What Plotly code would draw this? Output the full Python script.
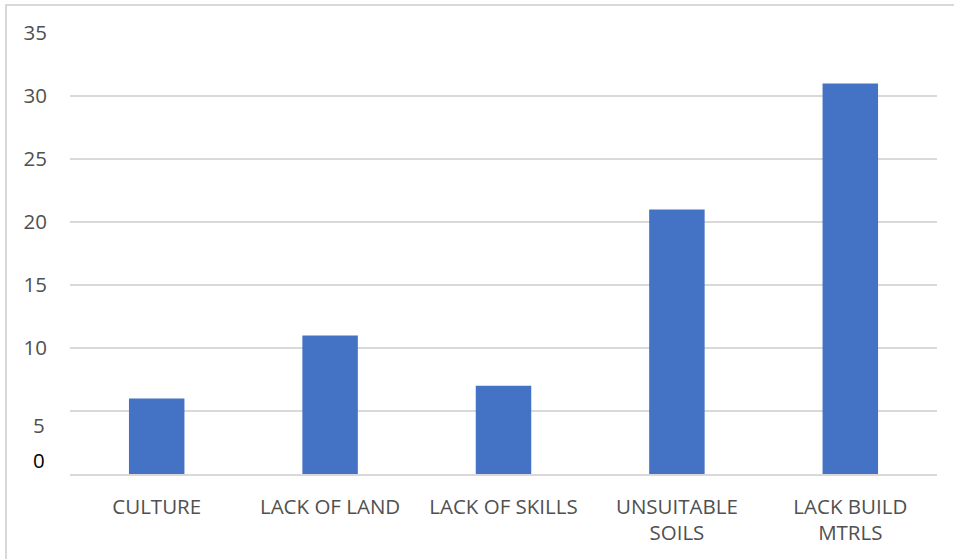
import plotly.graph_objects as go

categories = ["CULTURE", "LACK OF LAND", "LACK OF SKILLS", "UNSUITABLE<br>SOILS", "LACK BUILD<br>MTRLS"]
values = [6, 11, 7, 21, 31]
tick_values = [5, 10, 15, 20, 25, 30, 35]
tick_labels = ["", "10", "15", "20", "25", "30", "35"]

bar_color = "#4472C4"
grid_color = "#D9D9D9"
text_color = "#505050"
font_family = "Open Sans, Noto Sans, sans-serif"
font_size = 20.5

fig = go.Figure(
    go.Bar(
        x=categories,
        y=values,
        marker=dict(color=bar_color, line=dict(width=0)),
        width=0.32,
    )
)

fig.update_layout(
    width=954,
    height=559,
    margin=dict(l=70, r=17, t=33, b=85),
    paper_bgcolor="white",
    plot_bgcolor="white",
    showlegend=False,
    font=dict(family=font_family, size=font_size, color=text_color),
)

fig.update_xaxes(
    showline=True,
    linecolor=grid_color,
    linewidth=2,
    showgrid=False,
    ticks="",
    tickfont=dict(size=font_size, color=text_color),
    ticklabelstandoff=13,
)

fig.update_yaxes(
    range=[0, 35],
    tickvals=tick_values,
    ticktext=tick_labels,
    showgrid=True,
    gridcolor=grid_color,
    gridwidth=2,
    zeroline=False,
    showline=False,
    ticks="",
    tickfont=dict(size=font_size, color=text_color),
    ticklabelstandoff=22,
)

# lower axis labels sit slightly off their gridlines
fig.add_annotation(x=-0.026, xref="paper", y=3.9, yref="y", text="5",
                   showarrow=False, xanchor="right", yanchor="middle",
                   font=dict(size=font_size, color=text_color))
fig.add_annotation(x=-0.026, xref="paper", y=1.1, yref="y", text="0",
                   showarrow=False, xanchor="right", yanchor="middle",
                   font=dict(size=font_size, color="#000000"))

# chart frame
fig.add_shape(type="rect", xref="paper", yref="paper",
              x0=-0.0738, x1=1.1, y0=-0.3, y1=1.0635,
              line=dict(color=grid_color, width=2), layer="below")

fig.write_html("out.html")
